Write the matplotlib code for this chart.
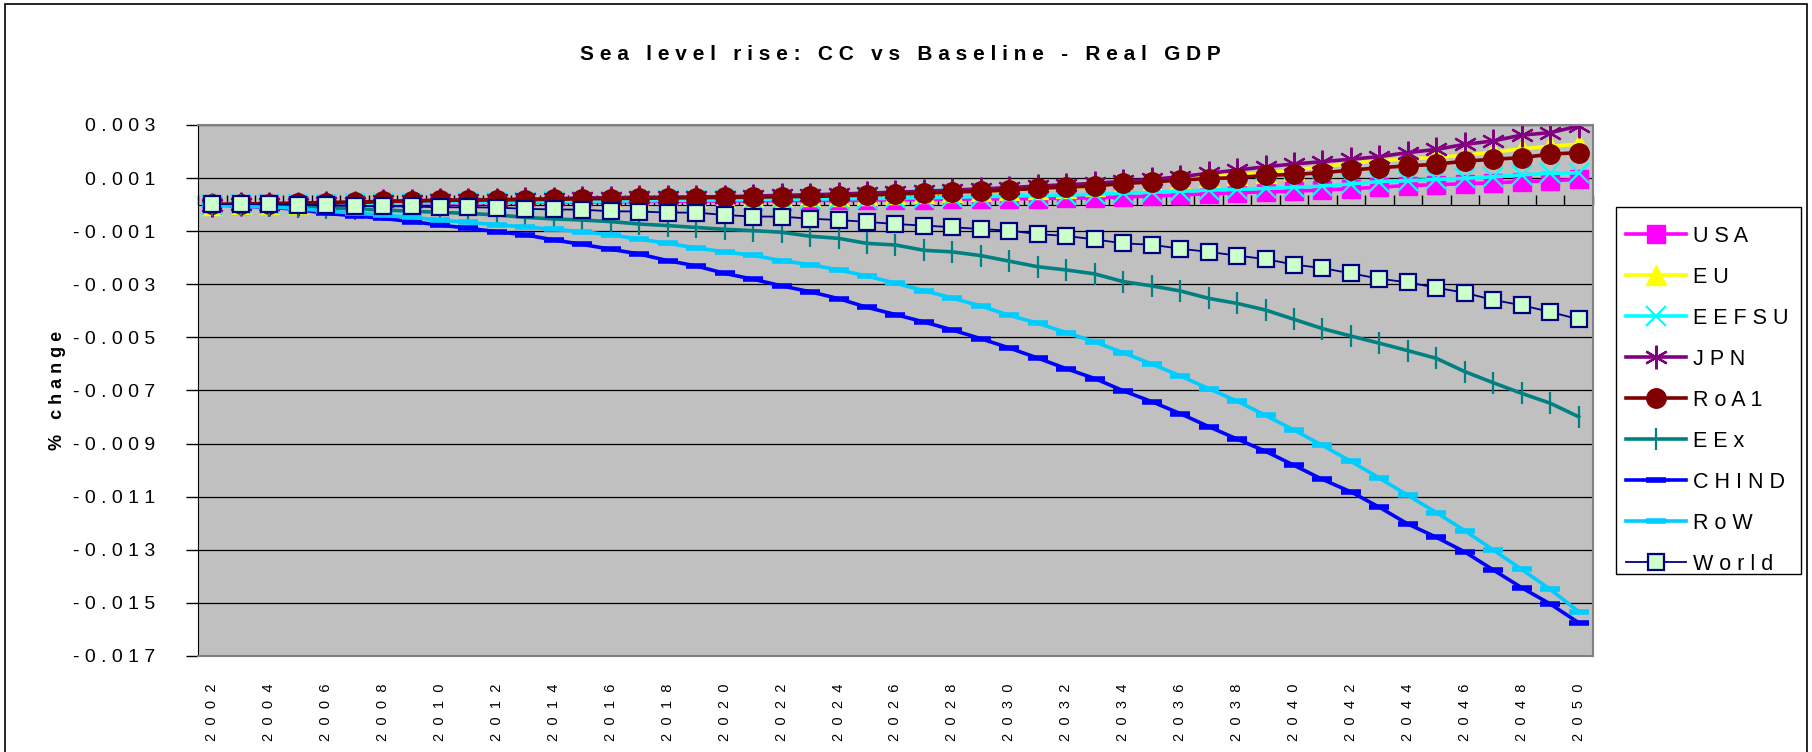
import matplotlib
matplotlib.use("Agg")
import matplotlib.pyplot as plt
from matplotlib import font_manager
from matplotlib.patches import Rectangle

# 字体：优先用窄体，找不到就用 Liberation Sans
try:
    font_manager.findfont("Liberation Sans Narrow", fallback_to_default=False)
    FONT = "Liberation Sans Narrow"
except Exception:
    FONT = "Liberation Sans"
plt.rcParams['font.family'] = [FONT, 'DejaVu Sans']

years = list(range(2002, 2051))

usa = [0.0, 0.0, 0.00001, 0.00002, 0.00003, 0.00004, 0.00005, 0.00006, 0.00006, 0.00007,
       0.00008, 0.00009, 0.0001, 0.0001, 0.00011, 0.00012, 0.00012, 0.00013, 0.00014, 0.00014,
       0.00015, 0.00016, 0.00016, 0.00017, 0.00018, 0.00019, 0.0002, 0.00021, 0.00022, 0.00023,
       0.00024, 0.00026, 0.00029, 0.00032, 0.00036, 0.00041, 0.00045, 0.00048, 0.00051, 0.00055,
       0.0006, 0.00066, 0.00072, 0.00075, 0.00079, 0.00082, 0.00087, 0.0009, 0.00095]
eu = [0.0, 0.00001, 0.00002, 0.00004, 0.00005, 0.00007, 0.00009, 0.0001, 0.00012, 0.00013,
      0.00014, 0.00016, 0.00017, 0.00019, 0.0002, 0.00021, 0.00023, 0.00024, 0.00026, 0.00027,
      0.00029, 0.00031, 0.00033, 0.00036, 0.00039, 0.00042, 0.00046, 0.0005, 0.00054, 0.00059,
      0.00064, 0.0007, 0.00082, 0.0009, 0.00097, 0.00104, 0.00112, 0.0012, 0.0013, 0.00143,
      0.00156, 0.00165, 0.00172, 0.00178, 0.00186, 0.00198, 0.0021, 0.0022, 0.00228]
eefsu = [0.0, 0.00001, 0.00002, 0.00003, 0.00004, 0.00005, 0.00006, 0.00007, 0.00008, 0.00009,
         0.0001, 0.00011, 0.00012, 0.00013, 0.00014, 0.00015, 0.00016, 0.00017, 0.00018, 0.00019,
         0.0002, 0.00021, 0.00022, 0.00023, 0.00024, 0.00026, 0.00028, 0.0003, 0.00032, 0.00034,
         0.00036, 0.00039, 0.00043, 0.00047, 0.0005, 0.00055, 0.00057, 0.00061, 0.00065, 0.0007,
         0.00078, 0.00087, 0.0009, 0.00095, 0.00099, 0.00105, 0.00112, 0.00118, 0.0012]
jpn = [0.0, 0.00001, 0.00002, 0.00003, 0.00006, 0.00008, 0.00012, 0.00014, 0.00017, 0.00018,
       0.00019, 0.0002, 0.00022, 0.00025, 0.00026, 0.00027, 0.00028, 0.00029, 0.0003, 0.00032,
       0.00035, 0.00037, 0.0004, 0.00043, 0.00047, 0.0005, 0.00055, 0.00059, 0.00064, 0.0007,
       0.00075, 0.0008, 0.00088, 0.00095, 0.00105, 0.00118, 0.0013, 0.00143, 0.00153, 0.00162,
       0.00171, 0.00181, 0.00196, 0.00208, 0.00227, 0.0024, 0.00262, 0.00271, 0.00296]
roa1 = [0.00001, 0.00002, 0.00004, 0.00006, 0.00008, 0.0001, 0.00012, 0.00014, 0.00016, 0.00017,
        0.00018, 0.00019, 0.0002, 0.00022, 0.00023, 0.00024, 0.00025, 0.00026, 0.00027, 0.00028,
        0.0003, 0.00031, 0.00033, 0.00036, 0.0004, 0.00043, 0.00047, 0.0005, 0.00055, 0.00061,
        0.00066, 0.0007, 0.0008, 0.00085, 0.00093, 0.00098, 0.00102, 0.0011, 0.00114, 0.0012,
        0.0013, 0.00139, 0.00146, 0.00152, 0.00164, 0.00171, 0.00177, 0.0019, 0.00196]
eex = [0.0, -0.00002, -0.00005, -0.00008, -0.00012, -0.00016, -0.0002, -0.00025, -0.00029, -0.00033,
       -0.00039, -0.00048, -0.00054, -0.00058, -0.00064, -0.00073, -0.00079, -0.00086, -0.00093, -0.00098,
       -0.00104, -0.00119, -0.00127, -0.00146, -0.00152, -0.00172, -0.00178, -0.00192, -0.00213, -0.00234,
       -0.00246, -0.00261, -0.0029, -0.00306, -0.00325, -0.00353, -0.00372, -0.00397, -0.00432, -0.00467,
       -0.00495, -0.00522, -0.0055, -0.00579, -0.00629, -0.00671, -0.00711, -0.00748, -0.00799]
chind = [-0.00001, -0.00005, -0.0001, -0.00018, -0.00033, -0.00042, -0.00052, -0.00064, -0.00077, -0.00089,
         -0.00102, -0.00114, -0.00133, -0.0015, -0.00168, -0.00186, -0.00211, -0.00231, -0.00259, -0.00281,
         -0.00306, -0.00328, -0.00354, -0.00387, -0.00414, -0.00442, -0.00472, -0.00505, -0.0054, -0.00578,
         -0.00618, -0.00655, -0.00701, -0.00742, -0.00787, -0.00836, -0.00883, -0.00929, -0.00982, -0.01035,
         -0.01082, -0.0114, -0.01203, -0.01253, -0.01308, -0.01376, -0.01443, -0.01504, -0.01575]
row = [-0.00001, -0.00004, -0.00008, -0.00015, -0.00024, -0.00032, -0.00039, -0.00048, -0.00058, -0.00067,
       -0.00076, -0.00084, -0.00093, -0.00102, -0.00114, -0.0013, -0.00146, -0.00163, -0.00178, -0.00191,
       -0.00211, -0.00226, -0.00246, -0.00269, -0.00296, -0.00324, -0.00352, -0.00382, -0.00417, -0.00447,
       -0.00482, -0.00517, -0.00558, -0.006, -0.00645, -0.00693, -0.0074, -0.00794, -0.00849, -0.00907,
       -0.00967, -0.0103, -0.01095, -0.0116, -0.01228, -0.01301, -0.01374, -0.01449, -0.01533]
world = [0.00002, 0.00002, 0.00001, 0.0, -0.00003, -0.00005, -0.00006, -0.00007, -0.0001, -0.0001,
         -0.00011, -0.00016, -0.00018, -0.00019, -0.00025, -0.00026, -0.0003, -0.0003, -0.00039, -0.00045,
         -0.00045, -0.00053, -0.00058, -0.00065, -0.00073, -0.00079, -0.00085, -0.00092, -0.00098, -0.00111,
         -0.00118, -0.00131, -0.00146, -0.00151, -0.00166, -0.00178, -0.00192, -0.00205, -0.00226, -0.00239,
         -0.00259, -0.00279, -0.00293, -0.00313, -0.00332, -0.00359, -0.00379, -0.00404, -0.00432]

names = ["USA", "EU", "EEFSU", "JPN", "RoA1", "EEx", "CHIND", "RoW", "World"]
yticks = [0.003, 0.001, -0.001, -0.003, -0.005, -0.007, -0.009, -0.011, -0.013, -0.015, -0.017]


def sp(s, n=1):
    # Excel 那种字母间距很大的效果
    return (" " * n).join(s)


fig = plt.figure(figsize=(18.12, 7.52), dpi=100)
# 外框
fig.patches.append(Rectangle((0.0025, -0.01), 0.9945, 1.005, transform=fig.transFigure,
                             fill=False, edgecolor='black', linewidth=1.2))
ax = fig.add_axes([0.1093, 0.1277, 0.7698, 0.7061])
ax.set_facecolor('#C0C0C0')

x = list(range(len(years)))
thick = 2.6
# 各条线的样式
ax.plot(x, usa, color='#FF00FF', lw=thick, marker='s', ms=13, mec='#FF00FF', label=sp(names[0]))
ax.plot(x, eu, color='#FFFF00', lw=thick, marker='^', ms=15, mec='#FFFF00', label=sp(names[1]))
ax.plot(x, eefsu, color='#00FFFF', lw=thick, marker='x', ms=14, mew=1.6, label=sp(names[2]))
ax.plot(x, jpn, color='#800080', lw=thick, marker=(6, 2, 0), ms=17, mew=1.6, label=sp(names[3]))
ax.plot(x, roa1, color='#800000', lw=thick, marker='o', ms=14, mec='#800000', label=sp(names[4]))
ax.plot(x, eex, color='#008080', lw=thick, marker='|', ms=16, mew=1.6, label=sp(names[5]))
ax.plot(x, chind, color='#0000FF', lw=thick, marker='_', ms=14, mew=4, label=sp(names[6]))
ax.plot(x, row, color='#00CCFF', lw=thick, marker='_', ms=14, mew=4, label=sp(names[7]))
ax.plot(x, world, color='#000080', lw=1.3, marker='s', ms=12, mfc='#CCFFCC', mec='#000080',
        mew=1.6, label=sp(names[8]))

ax.set_xlim(-0.5, len(years) - 0.5)
ax.set_ylim(-0.017, 0.003)
ax.set_yticks(yticks)
ax.set_yticklabels([sp(f"{v:.3f}") for v in yticks], fontsize=14)
ax.yaxis.grid(True, color='black', linewidth=0.9)
ax.set_axisbelow(True)
ax.tick_params(axis='y', direction='out', length=9, width=1, pad=22)

ax.set_xticks(x[::2])
ax.set_xticklabels([sp(str(y), 2) for y in years[::2]], rotation=90, fontsize=10.5)
ax.tick_params(axis='x', length=0, pad=20)

# 分类轴在 y=0 处，刻度在分类之间
sec = ax.secondary_xaxis(0.85)
sec.set_xticks([i - 0.5 for i in range(len(years) + 1)])
sec.set_xticklabels([])
sec.tick_params(axis='x', direction='out', length=7, width=1, color='black')
sec.spines['bottom'].set_color('black')

for s in ['top', 'right', 'bottom']:
    ax.spines[s].set_color('#808080')
    ax.spines[s].set_linewidth(1.5)
ax.spines['left'].set_color('black')

ax.set_ylabel(sp("% change"), fontsize=13, fontweight='bold')
ax.yaxis.set_label_coords(-0.0946, 0.5)
fig.text(0.497, 0.928, sp("Sea level rise: CC vs Baseline - Real GDP"), ha='center', va='center',
         fontsize=15, fontweight='bold')

# 图例：框另外画，Excel 的图例上边留白比下边多
fig.patches.append(Rectangle((1616 / 1812, 1 - 574 / 752), 185 / 1812, 367 / 752,
                             transform=fig.transFigure, facecolor='white',
                             edgecolor='black', linewidth=1.0, zorder=5))
leg = fig.legend(loc='upper left', bbox_to_anchor=(1626 / 1812, 0.700), fontsize=15.5,
                 frameon=False, handlelength=2.79, handletextpad=0.33, labelspacing=0.93,
                 borderpad=0, borderaxespad=0)
leg.set_zorder(6)

fig.savefig("out.png", dpi=100)
